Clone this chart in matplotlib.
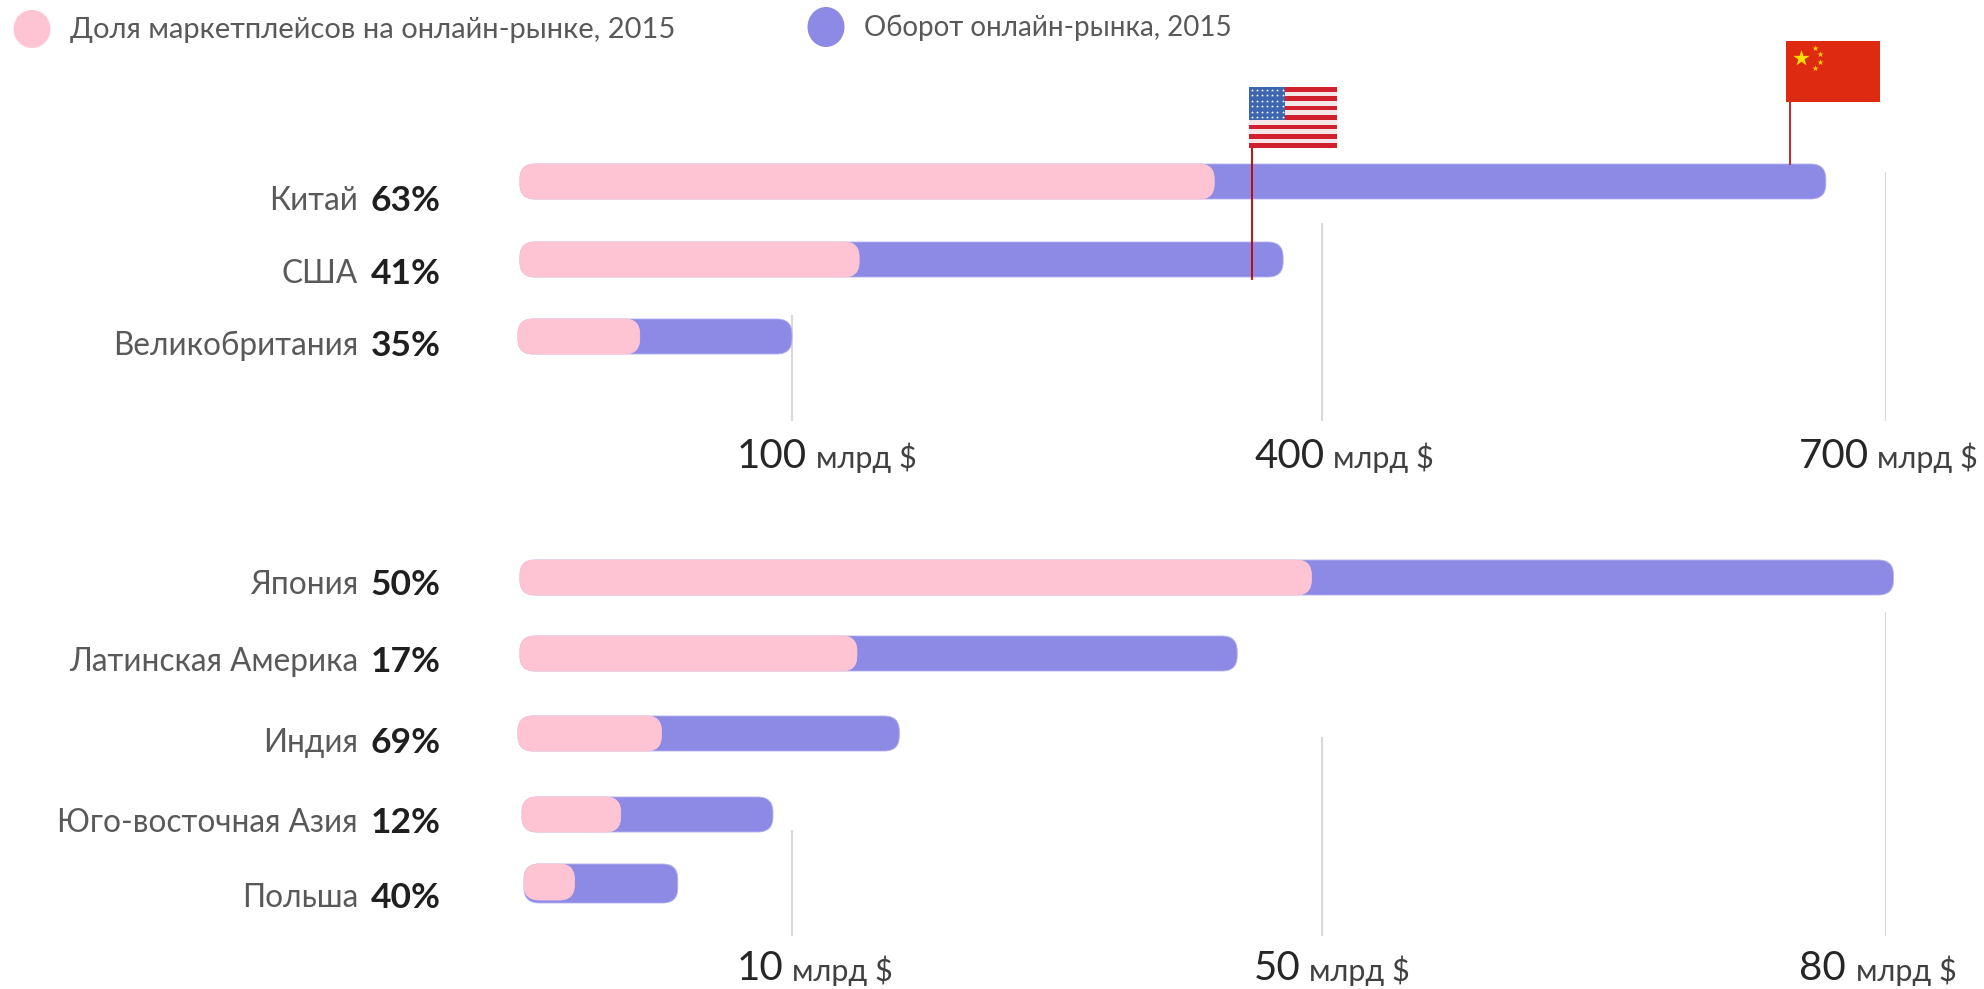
import numpy as np
import matplotlib
matplotlib.use('Agg')
import matplotlib.pyplot as plt
from matplotlib.patches import FancyBboxPatch, Ellipse, Rectangle
from matplotlib.scale import FuncScale

plt.rcParams['font.family'] = ['Lato', 'Open Sans', 'DejaVu Sans']

W, H = 1984, 989
PINK = '#fec4d3'
PURPLE = '#8d8ae6'
EDGE = '#b4b0ee'
GREY_TXT = '#595959'
DARK_TXT = '#1f1f1f'
GRID = '#d9d9d9'

legend_labels = ['Доля маркетплейсов на онлайн-рынке, 2015', 'Оборот онлайн-рынка, 2015']

# top group, billions of $
top_names = ['Китай', 'США', 'Великобритания']
top_pct = ['63%', '41%', '35%']
top_total = [668, 378, 100]
top_pink = [339, 138, 44]
top_ticks = [100, 400, 700]
top_tick_labels = ['100', '400', '700']

# bottom group
bot_names = ['Япония', 'Латинская Америка', 'Индия', 'Юго-восточная Азия', 'Польша']
bot_pct = ['50%', '17%', '69%', '12%', '40%']
bot_total = [80.4, 43.6, 18.1, 9.3, 5.8]
bot_pink = [49.2, 14.9, 5.2, 3.7, 2.0]
bot_ticks = [10, 50, 80]
bot_tick_labels = ['10', '50', '80']
unit = 'млрд $'

# the value axes are not linear in the source, so the scale goes through the ticks
top_vals = [-1000, 0, 100, 400, 700, 1700]
top_px = [-2200, 520, 792, 1322, 1886, 3763]
bot_vals = [-100, 0, 10, 50, 80, 180]
bot_px = [-2200, 520, 792, 1322, 1886, 3763]


def value_axes(fig, vals, px, vmax):
    ax = fig.add_axes([520 / W, 0, (px[vals.index(vmax)] - 520) / W, 1])
    ax.set_xscale(FuncScale(ax, (lambda v: np.interp(v, vals, px),
                                 lambda p: np.interp(p, px, vals))))
    ax.set_xlim(0, vmax)
    ax.set_ylim(H, 0)
    ax.axis('off')
    return ax


def rounded(pix, x0, x1, y0, y1, color, edge=None, z=2, r=15):
    pix.add_patch(FancyBboxPatch((x0, y0), x1 - x0, y1 - y0,
                                 boxstyle=f'round,pad=0,rounding_size={r}',
                                 fc=color, ec=edge or color, lw=0.6, zorder=z))


def draw_group(ax, pix, names, pct, total, pink, rows, ticks, tick_labels,
               grid_top, grid_bottom, num_off, unit_off, text_y, label_y, pct_x, starts):
    ax.vlines(ticks, grid_top, grid_bottom, color=GRID, lw=1.5, zorder=1)
    for i, name in enumerate(names):
        y0, y1 = rows[i]
        x0 = starts[i]
        xt = ax.transData.transform((total[i], 0))[0]
        xp = ax.transData.transform((pink[i], 0))[0]
        rounded(pix, x0, xt, y0, y1, PURPLE, EDGE, z=2)
        rounded(pix, x0, xp, y0, y1 - (3 if name == 'Польша' else 0), PINK, PINK, z=3)
        pix.text(358, label_y[i], name, ha='right', va='center', fontsize=22.7, color=GREY_TXT)
        pix.text(pct_x, label_y[i], pct[i], ha='center', va='center', fontsize=25.5,
                 fontweight='bold', color=DARK_TXT)
    for j, t in enumerate(ticks):
        xt = ax.transData.transform((t, 0))[0]
        pix.text(xt + num_off[j], text_y, tick_labels[j], ha='left', va='center',
                 fontsize=29, color='#262626')
        pix.text(xt + unit_off[j], text_y + 2, unit, ha='left', va='center',
                 fontsize=22, color='#404040')


fig = plt.figure(figsize=(W / 100, H / 100), dpi=100)
pix = fig.add_axes([0, 0, 1, 1], zorder=5)
pix.set_xlim(0, W)
pix.set_ylim(H, 0)
pix.axis('off')
pix.patch.set_alpha(0)

ax_top = value_axes(fig, top_vals, top_px, 700)
ax_bot = value_axes(fig, bot_vals, bot_px, 80)

# legend
pix.add_patch(Ellipse((32, 29), 37, 38, fc=PINK, ec='none'))
pix.add_patch(Ellipse((826, 27), 37, 40, fc=PURPLE, ec='none'))
pix.text(70, 30, legend_labels[0], ha='left', va='center', fontsize=21, color=GREY_TXT)
pix.text(864, 28, legend_labels[1], ha='left', va='center', fontsize=20, color=GREY_TXT)

draw_group(ax_top, pix, top_names, top_pct, top_total, top_pink,
           [(164, 199), (242, 277), (319, 354)], top_ticks, top_tick_labels,
           [315, 223, 172], 421, [-55, -68, -87], [24, 11, -9], 456,
           [201, 274, 346], 406, [520, 520, 518])
draw_group(ax_bot, pix, bot_names, bot_pct, bot_total, bot_pink,
           [(560, 595), (636, 671), (716, 751), (797, 832), (864, 903)], bot_ticks, bot_tick_labels,
           [830, 737, 612], 936, [-55, -68, -87], [0, -13, -30], 969,
           [585, 662, 743, 823, 898], 406, [520, 520, 518, 522, 524])

# flag poles
pix.plot([1252, 1252], [148, 279], color='#c00000', lw=1.3, zorder=6)
pix.plot([1789.5, 1789.5], [102, 164], color='#c8101a', lw=1.3, zorder=6)

# US flag
fx0, fx1, fy0, fy1 = 1249, 1337, 87, 148
n_stripes = 13
sh = (fy1 - fy0) / n_stripes
for s in range(n_stripes):
    c = '#d0202e' if s % 2 == 0 else '#f4e6e6'
    pix.add_patch(Rectangle((fx0, fy0 + s * sh), fx1 - fx0, sh, fc=c, ec='none', zorder=7))
pix.add_patch(Rectangle((fx0, fy0), 36, 33, fc='#3c66b0', ec='none', zorder=8))
sx, sy = np.meshgrid(np.linspace(fx0 + 2.5, fx0 + 33.5, 7), np.linspace(fy0 + 3, fy0 + 30, 6))
pix.scatter(sx.ravel(), sy.ravel(), s=5, marker='*', color='white', lw=0, zorder=9)

# China flag
pix.add_patch(Rectangle((1786, 41), 94, 61, fc='#de2a10', ec='none', zorder=7))
pix.scatter([1801], [58], s=150, marker='*', color='#ffe000', lw=0, zorder=8)
pix.scatter([1815, 1820, 1820, 1815], [48, 54, 62, 68], s=22, marker='*', color='#ffc800', lw=0, zorder=8)

fig.savefig('out.png', dpi=100)
